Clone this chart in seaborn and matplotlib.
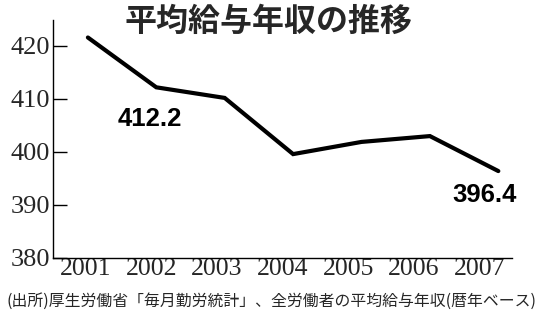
import numpy as np
import pandas as pd
import matplotlib
matplotlib.use("Agg")
import matplotlib.pyplot as plt
import seaborn as sns

years = ["2001", "2002", "2003", "2004", "2005", "2006", "2007"]
income = [421.6, 412.2, 410.2, 399.6, 401.9, 403.0, 396.4]
yticks = [380, 390, 400, 410, 420]
title = "平均給与年収の推移"
source = "(出所)厚生労働省「毎月勤労統計」、全労働者の平均給与年収(暦年ベース)"
labelled = {"2002": "412.2", "2007": "396.4"}

sns.set_style("white")
plt.rcParams["font.family"] = ["Noto Sans CJK JP", "DejaVu Sans"]

df = pd.DataFrame({"idx": np.arange(len(years)), "year": years, "income": income})

fig = plt.figure(figsize=(5.42, 3.19), dpi=100)
ax = fig.add_axes([53 / 542, 1 - 258 / 319, (512 - 53) / 542, (258 - 20) / 319])

sns.lineplot(data=df, x="idx", y="income", ax=ax, color="black", linewidth=3.0,
             solid_joinstyle="miter")

xl = (-0.51, 6.2)
ax.set_xlim(*xl)
ax.set_ylim(380, 424.9)

edges = np.linspace(xl[0], xl[1], len(years) + 1)
centers = (edges[:-1] + edges[1:]) / 2
ax.set_xticks(edges[1:], minor=False)
ax.set_xticklabels([])
ax.set_xticks(centers, minor=True)
ax.set_xticklabels(years, minor=True, family=["Liberation Serif"], fontsize=18.5)
ax.tick_params(axis="x", which="major", direction="in", length=4, width=1, color="black")
ax.tick_params(axis="x", which="minor", length=0, pad=0)

ax.set_yticks(yticks)
ax.set_yticklabels([str(v) for v in yticks], family=["Liberation Serif"], fontsize=19)
ax.tick_params(axis="y", direction="in", length=10, width=1, color="black", pad=2,
               left=True)

for s in ["top", "right"]:
    ax.spines[s].set_visible(False)
for s in ["left", "bottom"]:
    ax.spines[s].set_color("black")
    ax.spines[s].set_linewidth(1.0)

ax.set_xlabel("")
ax.set_ylabel("")

offsets = {"2002": (-5, -23), "2007": (-10, -17)}
for yr, txt in labelled.items():
    i = years.index(yr)
    ax.annotate(txt, xy=(i, income[i]), xytext=offsets[yr], textcoords="offset points",
                ha="center", va="center", fontsize=18.5, fontweight="bold",
                family=["Liberation Sans"], color="black")

fig.text(269 / 542, 1 - 22 / 319, title, ha="center", va="center", fontsize=23,
         fontweight="bold", family=["Noto Sans CJK JP"])
fig.text(271 / 542, 1 - 301 / 319, source, ha="center", va="center", fontsize=11.4,
         family=["Noto Sans CJK JP", "DejaVu Sans"])

fig.savefig("out.png", dpi=100, facecolor="white")
